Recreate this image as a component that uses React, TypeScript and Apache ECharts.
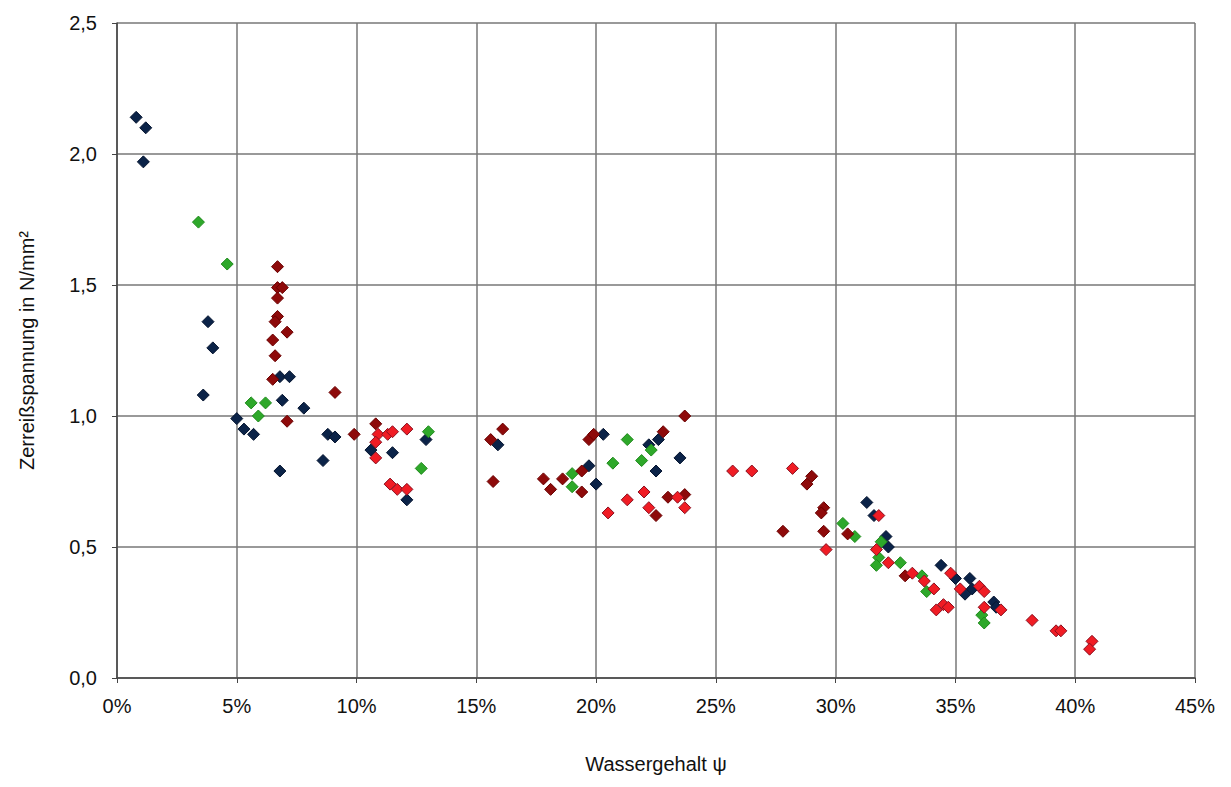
import React, { useEffect, useRef } from 'react';
import * as echarts from 'echarts';

// [Wassergehalt %, Zerreißspannung N/mm²]
const blueData = [
  [0.8, 2.14], [1.2, 2.10], [1.1, 1.97], [3.8, 1.36], [4.0, 1.26], [3.6, 1.08],
  [5.0, 0.99], [5.3, 0.95], [5.7, 0.93], [6.8, 1.15], [7.2, 1.15], [6.9, 1.06],
  [6.8, 0.79], [7.8, 1.03], [8.8, 0.93], [9.1, 0.92], [8.6, 0.83], [10.6, 0.87],
  [11.5, 0.86], [12.1, 0.68], [12.9, 0.91], [15.9, 0.89], [20.3, 0.93], [19.7, 0.81],
  [20.0, 0.74], [22.2, 0.89], [22.6, 0.91], [22.5, 0.79], [23.5, 0.84],
  [31.3, 0.67], [31.6, 0.62], [32.1, 0.54], [32.2, 0.50], [34.4, 0.43], [35.0, 0.38],
  [35.6, 0.38], [35.4, 0.32], [35.7, 0.34], [36.6, 0.29], [36.7, 0.27],
];
const greenData = [
  [3.4, 1.74], [4.6, 1.58], [5.6, 1.05], [6.2, 1.05], [5.9, 1.00], [12.7, 0.80],
  [13.0, 0.94], [21.3, 0.91], [20.7, 0.82], [21.9, 0.83], [22.3, 0.87], [19.0, 0.78],
  [19.0, 0.73], [30.3, 0.59], [30.8, 0.54], [31.9, 0.52], [31.8, 0.46], [31.7, 0.43],
  [32.7, 0.44], [33.6, 0.39], [33.8, 0.33], [36.1, 0.24], [36.2, 0.21],
];
const darkRedData = [
  [6.7, 1.57], [6.7, 1.49], [6.9, 1.49], [6.7, 1.45], [6.7, 1.38], [6.6, 1.36],
  [7.1, 1.32], [6.5, 1.29], [6.6, 1.23], [6.5, 1.14], [7.1, 0.98], [9.1, 1.09],
  [10.8, 0.97], [9.9, 0.93], [16.1, 0.95], [15.6, 0.91], [15.7, 0.75], [17.8, 0.76],
  [18.1, 0.72], [18.6, 0.76], [19.4, 0.79], [19.4, 0.71], [19.7, 0.91], [19.9, 0.93],
  [22.8, 0.94], [23.7, 1.00], [22.5, 0.62], [23.0, 0.69], [23.7, 0.70], [29.0, 0.77],
  [28.8, 0.74], [29.5, 0.65], [29.4, 0.63], [27.8, 0.56], [29.5, 0.56], [30.5, 0.55],
  [32.9, 0.39],
];
const redData = [
  [10.9, 0.93], [11.3, 0.93], [11.5, 0.94], [12.1, 0.95], [10.8, 0.90], [10.8, 0.84],
  [11.4, 0.74], [11.7, 0.72], [12.1, 0.72], [20.5, 0.63], [21.3, 0.68], [22.0, 0.71],
  [22.2, 0.65], [23.4, 0.69], [23.7, 0.65], [25.7, 0.79], [26.5, 0.79], [28.2, 0.80],
  [29.6, 0.49], [31.7, 0.49], [32.2, 0.44], [31.8, 0.62], [33.2, 0.40], [33.7, 0.37],
  [34.1, 0.34], [34.2, 0.26], [34.5, 0.28], [34.7, 0.27], [34.8, 0.40], [35.2, 0.34],
  [36.0, 0.35], [36.2, 0.33], [36.2, 0.27], [36.9, 0.26], [38.2, 0.22], [39.2, 0.18],
  [39.4, 0.18], [40.7, 0.14], [40.6, 0.11],
];

const font = '"Liberation Sans", Arial, sans-serif';

const App: React.FC = () => {
  const chartRef = useRef<HTMLDivElement>(null);

  useEffect(() => {
    if (!chartRef.current) return;
    const chart = echarts.init(chartRef.current, undefined, { renderer: 'svg' });

    const series = (data: number[][], color: string, border: string) => ({
      type: 'scatter',
      data,
      symbol: 'diamond',
      symbolSize: 12,
      itemStyle: { color, borderColor: border, borderWidth: 1, opacity: 1 },
    });

    chart.setOption({
      animation: false,
      grid: { left: 109, right: 28, top: 15, bottom: 76 },
      xAxis: {
        type: 'value',
        min: 0,
        max: 45,
        interval: 5,
        name: 'Wassergehalt ψ',
        nameLocation: 'middle',
        nameGap: 76,
        nameTextStyle: { fontFamily: font, fontSize: 20, color: '#111' },
        axisLine: { lineStyle: { color: '#444', width: 1.5 } },
        axisTick: { show: true, length: 5, lineStyle: { color: '#444' } },
        axisLabel: { formatter: '{value}%', fontFamily: font, fontSize: 20, color: '#111', margin: 18 },
        splitLine: { lineStyle: { color: '#777', width: 1.5 } },
      },
      yAxis: {
        type: 'value',
        min: 0,
        max: 2.5,
        interval: 0.5,
        name: 'Zerreißspannung in N/mm²',
        nameLocation: 'middle',
        nameGap: 80,
        nameTextStyle: { fontFamily: font, fontSize: 20, color: '#111' },
        axisLine: { show: true, lineStyle: { color: '#444', width: 1.5 } },
        axisTick: { show: true, length: 5, lineStyle: { color: '#444' } },
        axisLabel: {
          formatter: (v: number) => v.toFixed(1).replace('.', ','),
          fontFamily: font,
          fontSize: 20,
          color: '#111',
          margin: 20,
        },
        splitLine: { lineStyle: { color: '#777', width: 1.5 } },
      },
      series: [
        series(blueData, '#0b2348', '#061530'),
        series(greenData, '#2ea82a', '#1f8a1c'),
        series(darkRedData, '#8e0a0a', '#6a0000'),
        series(redData, '#f01c24', '#8a1020'),
      ],
    });

    return () => chart.dispose();
  }, []);

  return <div ref={chartRef} style={{ width: 1215, height: 771 }} />;
};

export default App;
